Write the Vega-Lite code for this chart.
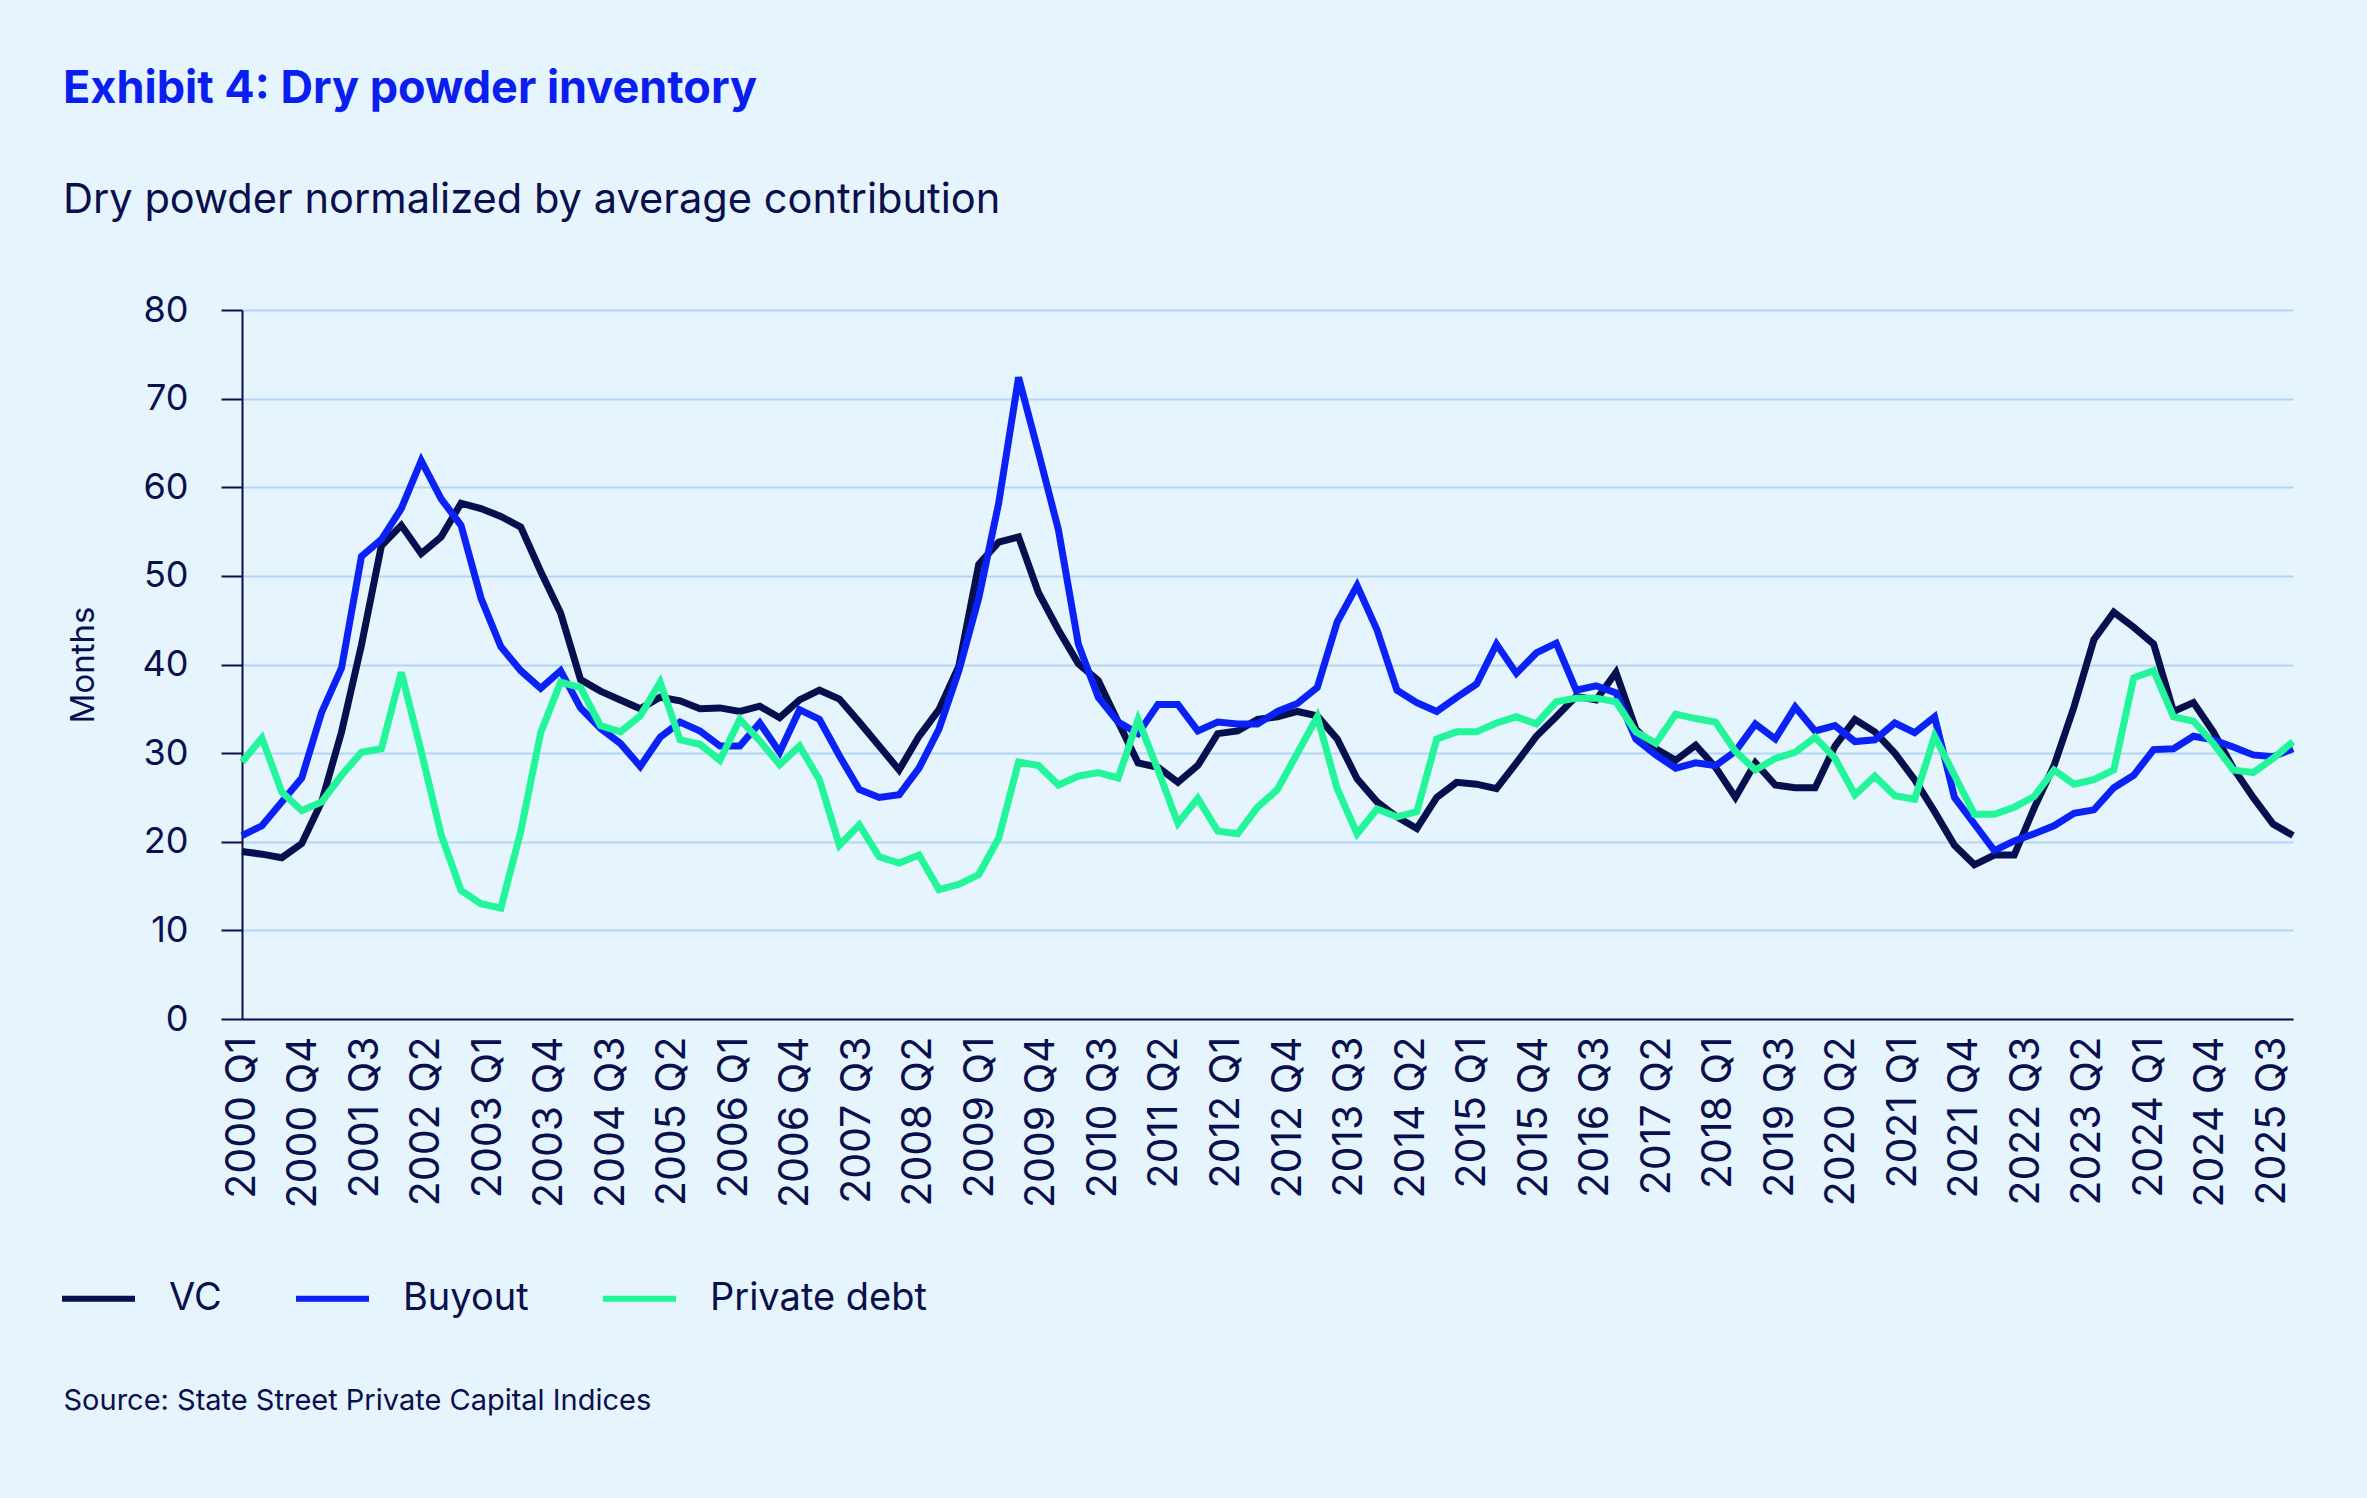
{
  "$schema": "https://vega.github.io/schema/vega-lite/v6.json",
  "width": 2051,
  "height": 709,
  "autosize": "none",
  "padding": {"left": 242, "top": 310, "right": 74, "bottom": 479},
  "background": "#E6F4FD",
  "title": {
    "text": "Exhibit 4: Dry powder inventory",
    "subtitle": "Dry powder normalized by average contribution",
    "anchor": "start",
    "frame": "group",
    "dx": -179,
    "offset": 70,
    "font": "Inter",
    "fontSize": 45,
    "fontWeight": "bold",
    "color": "#0A1EF0",
    "subtitleFont": "Inter",
    "subtitleFontSize": 41.6,
    "subtitleColor": "#0A0F4D",
    "subtitlePadding": 68
  },
  "config": {
    "view": {"stroke": null},
    "font": "Inter"
  },
  "data": {
    "values": [
      {"q":"2000 Q1","VC":18.9,"Buyout":20.7,"Private debt":29.0},
      {"q":"2000 Q2","VC":18.6,"Buyout":21.8,"Private debt":31.7},
      {"q":"2000 Q3","VC":18.2,"Buyout":24.5,"Private debt":25.6},
      {"q":"2000 Q4","VC":19.8,"Buyout":27.2,"Private debt":23.5},
      {"q":"2001 Q1","VC":24.5,"Buyout":34.6,"Private debt":24.5},
      {"q":"2001 Q2","VC":32.4,"Buyout":39.6,"Private debt":27.5},
      {"q":"2001 Q3","VC":42.2,"Buyout":52.2,"Private debt":30.1},
      {"q":"2001 Q4","VC":53.4,"Buyout":54.1,"Private debt":30.5},
      {"q":"2002 Q1","VC":55.7,"Buyout":57.6,"Private debt":39.1},
      {"q":"2002 Q2","VC":52.5,"Buyout":63.0,"Private debt":30.2},
      {"q":"2002 Q3","VC":54.4,"Buyout":58.7,"Private debt":20.8},
      {"q":"2002 Q4","VC":58.2,"Buyout":55.7,"Private debt":14.5},
      {"q":"2003 Q1","VC":57.6,"Buyout":47.5,"Private debt":13.0},
      {"q":"2003 Q2","VC":56.7,"Buyout":42.0,"Private debt":12.5},
      {"q":"2003 Q3","VC":55.5,"Buyout":39.3,"Private debt":21.2},
      {"q":"2003 Q4","VC":50.5,"Buyout":37.3,"Private debt":32.3},
      {"q":"2004 Q1","VC":45.8,"Buyout":39.3,"Private debt":38.0},
      {"q":"2004 Q2","VC":38.3,"Buyout":35.1,"Private debt":37.4},
      {"q":"2004 Q3","VC":37.0,"Buyout":32.8,"Private debt":33.1},
      {"q":"2004 Q4","VC":36.0,"Buyout":31.1,"Private debt":32.4},
      {"q":"2005 Q1","VC":35.0,"Buyout":28.5,"Private debt":34.2},
      {"q":"2005 Q2","VC":36.3,"Buyout":31.8,"Private debt":38.0},
      {"q":"2005 Q3","VC":35.9,"Buyout":33.5,"Private debt":31.5},
      {"q":"2005 Q4","VC":35.0,"Buyout":32.5,"Private debt":31.0},
      {"q":"2006 Q1","VC":35.1,"Buyout":30.8,"Private debt":29.2},
      {"q":"2006 Q2","VC":34.7,"Buyout":30.8,"Private debt":33.8},
      {"q":"2006 Q3","VC":35.3,"Buyout":33.4,"Private debt":31.4},
      {"q":"2006 Q4","VC":34.0,"Buyout":30.1,"Private debt":28.7},
      {"q":"2007 Q1","VC":36.0,"Buyout":34.9,"Private debt":30.8},
      {"q":"2007 Q2","VC":37.1,"Buyout":33.8,"Private debt":27.0},
      {"q":"2007 Q3","VC":36.1,"Buyout":29.7,"Private debt":19.6},
      {"q":"2007 Q4","VC":33.5,"Buyout":25.9,"Private debt":21.9},
      {"q":"2008 Q1","VC":30.8,"Buyout":25.0,"Private debt":18.3},
      {"q":"2008 Q2","VC":28.1,"Buyout":25.3,"Private debt":17.6},
      {"q":"2008 Q3","VC":31.9,"Buyout":28.3,"Private debt":18.5},
      {"q":"2008 Q4","VC":34.9,"Buyout":32.7,"Private debt":14.6},
      {"q":"2009 Q1","VC":39.8,"Buyout":39.3,"Private debt":15.2},
      {"q":"2009 Q2","VC":51.3,"Buyout":47.5,"Private debt":16.3},
      {"q":"2009 Q3","VC":53.8,"Buyout":58.2,"Private debt":20.4},
      {"q":"2009 Q4","VC":54.4,"Buyout":72.4,"Private debt":29.0},
      {"q":"2010 Q1","VC":48.1,"Buyout":63.9,"Private debt":28.6},
      {"q":"2010 Q2","VC":43.9,"Buyout":55.2,"Private debt":26.4},
      {"q":"2010 Q3","VC":40.1,"Buyout":42.3,"Private debt":27.4},
      {"q":"2010 Q4","VC":38.2,"Buyout":36.3,"Private debt":27.8},
      {"q":"2011 Q1","VC":33.5,"Buyout":33.5,"Private debt":27.2},
      {"q":"2011 Q2","VC":28.9,"Buyout":32.2,"Private debt":33.8},
      {"q":"2011 Q3","VC":28.4,"Buyout":35.5,"Private debt":28.1},
      {"q":"2011 Q4","VC":26.7,"Buyout":35.5,"Private debt":22.1},
      {"q":"2012 Q1","VC":28.6,"Buyout":32.5,"Private debt":24.9},
      {"q":"2012 Q2","VC":32.2,"Buyout":33.5,"Private debt":21.2},
      {"q":"2012 Q3","VC":32.5,"Buyout":33.3,"Private debt":20.9},
      {"q":"2012 Q4","VC":33.8,"Buyout":33.3,"Private debt":23.9},
      {"q":"2013 Q1","VC":34.1,"Buyout":34.7,"Private debt":25.9},
      {"q":"2013 Q2","VC":34.7,"Buyout":35.6,"Private debt":30.0},
      {"q":"2013 Q3","VC":34.2,"Buyout":37.4,"Private debt":34.1},
      {"q":"2013 Q4","VC":31.6,"Buyout":44.8,"Private debt":26.0},
      {"q":"2014 Q1","VC":27.1,"Buyout":48.9,"Private debt":20.9},
      {"q":"2014 Q2","VC":24.5,"Buyout":43.9,"Private debt":23.7},
      {"q":"2014 Q3","VC":22.8,"Buyout":37.1,"Private debt":22.8},
      {"q":"2014 Q4","VC":21.5,"Buyout":35.7,"Private debt":23.4},
      {"q":"2015 Q1","VC":25.0,"Buyout":34.7,"Private debt":31.6},
      {"q":"2015 Q2","VC":26.7,"Buyout":36.3,"Private debt":32.4},
      {"q":"2015 Q3","VC":26.5,"Buyout":37.8,"Private debt":32.4},
      {"q":"2015 Q4","VC":26.0,"Buyout":42.3,"Private debt":33.4},
      {"q":"2016 Q1","VC":28.9,"Buyout":39.0,"Private debt":34.1},
      {"q":"2016 Q2","VC":31.9,"Buyout":41.3,"Private debt":33.3},
      {"q":"2016 Q3","VC":34.1,"Buyout":42.4,"Private debt":35.8},
      {"q":"2016 Q4","VC":36.4,"Buyout":37.1,"Private debt":36.2},
      {"q":"2017 Q1","VC":36.0,"Buyout":37.6,"Private debt":36.2},
      {"q":"2017 Q2","VC":39.1,"Buyout":36.8,"Private debt":35.8},
      {"q":"2017 Q3","VC":32.7,"Buyout":31.6,"Private debt":32.4},
      {"q":"2017 Q4","VC":30.5,"Buyout":29.8,"Private debt":31.1},
      {"q":"2018 Q1","VC":29.2,"Buyout":28.3,"Private debt":34.4},
      {"q":"2018 Q2","VC":30.9,"Buyout":28.9,"Private debt":33.9},
      {"q":"2018 Q3","VC":28.4,"Buyout":28.6,"Private debt":33.5},
      {"q":"2018 Q4","VC":25.0,"Buyout":30.2,"Private debt":30.2},
      {"q":"2019 Q1","VC":28.9,"Buyout":33.3,"Private debt":28.1},
      {"q":"2019 Q2","VC":26.4,"Buyout":31.6,"Private debt":29.4},
      {"q":"2019 Q3","VC":26.1,"Buyout":35.2,"Private debt":30.1},
      {"q":"2019 Q4","VC":26.1,"Buyout":32.5,"Private debt":31.8},
      {"q":"2020 Q1","VC":30.8,"Buyout":33.1,"Private debt":29.4},
      {"q":"2020 Q2","VC":33.8,"Buyout":31.3,"Private debt":25.3},
      {"q":"2020 Q3","VC":32.4,"Buyout":31.5,"Private debt":27.4},
      {"q":"2020 Q4","VC":30.0,"Buyout":33.4,"Private debt":25.2},
      {"q":"2021 Q1","VC":27.0,"Buyout":32.3,"Private debt":24.8},
      {"q":"2021 Q2","VC":23.4,"Buyout":34.1,"Private debt":31.9},
      {"q":"2021 Q3","VC":19.6,"Buyout":25.0,"Private debt":27.5},
      {"q":"2021 Q4","VC":17.4,"Buyout":22.0,"Private debt":23.1},
      {"q":"2022 Q1","VC":18.5,"Buyout":19.0,"Private debt":23.1},
      {"q":"2022 Q2","VC":18.5,"Buyout":20.1,"Private debt":23.9},
      {"q":"2022 Q3","VC":23.8,"Buyout":20.9,"Private debt":25.1},
      {"q":"2022 Q4","VC":28.6,"Buyout":21.8,"Private debt":28.1},
      {"q":"2023 Q1","VC":35.2,"Buyout":23.2,"Private debt":26.5},
      {"q":"2023 Q2","VC":42.8,"Buyout":23.6,"Private debt":27.0},
      {"q":"2023 Q3","VC":45.9,"Buyout":26.1,"Private debt":28.1},
      {"q":"2023 Q4","VC":44.2,"Buyout":27.5,"Private debt":38.5},
      {"q":"2024 Q1","VC":42.3,"Buyout":30.4,"Private debt":39.3},
      {"q":"2024 Q2","VC":34.7,"Buyout":30.5,"Private debt":34.1},
      {"q":"2024 Q3","VC":35.7,"Buyout":31.9,"Private debt":33.6},
      {"q":"2024 Q4","VC":32.4,"Buyout":31.5,"Private debt":31.1},
      {"q":"2025 Q1","VC":28.3,"Buyout":30.7,"Private debt":28.1},
      {"q":"2025 Q2","VC":25.0,"Buyout":29.8,"Private debt":27.8},
      {"q":"2025 Q3","VC":22.0,"Buyout":29.6,"Private debt":29.4},
      {"q":"2025 Q4","VC":20.7,"Buyout":30.5,"Private debt":31.3}
    ]
  },
  "transform": [
    {"fold": ["VC", "Buyout", "Private debt"], "as": ["series", "value"]}
  ],
  "layer": [
    {
      "mark": {"type": "line", "strokeWidth": 7, "strokeJoin": "miter"},
      "encoding": {
        "x": {
          "field": "q",
          "type": "ordinal",
          "sort": null,
          "scale": {"type": "point", "padding": 0},
          "axis": null
        },
        "y": {
          "field": "value",
          "type": "quantitative",
          "scale": {"domain": [0, 80], "nice": false},
          "axis": {
            "values": [0, 10, 20, 30, 40, 50, 60, 70, 80],
            "grid": true,
            "gridColor": "#B3D5F5",
            "gridWidth": 2,
            "domainColor": "#0A0F4D",
            "domainWidth": 2,
            "tickColor": "#0A0F4D",
            "tickSize": 21,
            "tickWidth": 2,
            "labelPadding": 33,
            "labelFont": "Inter",
            "labelFontSize": 36,
            "labelColor": "#0A0F4D",
            "title": "Months",
            "titleFont": "Inter",
            "titleFontSize": 33,
            "titleFontWeight": "normal",
            "titleColor": "#0A0F4D",
            "titlePadding": 42
          }
        },
        "color": {
          "field": "series",
          "type": "nominal",
          "scale": {"domain": ["VC", "Buyout", "Private debt"], "range": ["#07104F", "#0A22F5", "#22F59A"]},
          "legend": {
            "title": null,
            "orient": "none",
            "direction": "horizontal",
            "legendX": -183,
            "legendY": 949,
            "symbolType": "stroke",
            "symbolStrokeWidth": 6,
            "symbolSize": 5329,
            "labelOffset": 31,
            "columnPadding": 62,
            "labelLimit": 0,
            "labelFont": "Inter",
            "labelFontSize": 38,
            "labelColor": "#0A0F4D"
          }
        }
      }
    },
    {
      "mark": {"type": "point", "opacity": 0},
      "encoding": {
        "x": {
          "field": "q",
          "type": "ordinal",
          "scale": {
            "type": "point",
            "padding": 0,
            "domain": ["2000 Q1","2000 Q2","2000 Q3","2000 Q4","2001 Q1","2001 Q2","2001 Q3","2001 Q4","2002 Q1","2002 Q2","2002 Q3","2002 Q4","2003 Q1","2003 Q2","2003 Q3","2003 Q4","2004 Q1","2004 Q2","2004 Q3","2004 Q4","2005 Q1","2005 Q2","2005 Q3","2005 Q4","2006 Q1","2006 Q2","2006 Q3","2006 Q4","2007 Q1","2007 Q2","2007 Q3","2007 Q4","2008 Q1","2008 Q2","2008 Q3","2008 Q4","2009 Q1","2009 Q2","2009 Q3","2009 Q4","2010 Q1","2010 Q2","2010 Q3","2010 Q4","2011 Q1","2011 Q2","2011 Q3","2011 Q4","2012 Q1","2012 Q2","2012 Q3","2012 Q4","2013 Q1","2013 Q2","2013 Q3","2013 Q4","2014 Q1","2014 Q2","2014 Q3","2014 Q4","2015 Q1","2015 Q2","2015 Q3","2015 Q4","2016 Q1","2016 Q2","2016 Q3","2016 Q4","2017 Q1","2017 Q2","2017 Q3","2017 Q4","2018 Q1","2018 Q2","2018 Q3","2019 Q3","2019 Q4","2020 Q1","2020 Q2","2020 Q3","2020 Q4","2021 Q1","2021 Q2","2021 Q3","2021 Q4","2022 Q1","2022 Q2","2022 Q3","2022 Q4","2023 Q1","2023 Q2","2023 Q3","2023 Q4","2024 Q1","2024 Q2","2024 Q3","2024 Q4","2025 Q1","2025 Q2","2025 Q3","2025 Q4"]
          },
          "axis": {
            "orient": "bottom",
            "values": ["2000 Q1","2000 Q4","2001 Q3","2002 Q2","2003 Q1","2003 Q4","2004 Q3","2005 Q2","2006 Q1","2006 Q4","2007 Q3","2008 Q2","2009 Q1","2009 Q4","2010 Q3","2011 Q2","2012 Q1","2012 Q4","2013 Q3","2014 Q2","2015 Q1","2015 Q4","2016 Q3","2017 Q2","2018 Q1","2019 Q3","2020 Q2","2021 Q1","2021 Q4","2022 Q3","2023 Q2","2024 Q1","2024 Q4","2025 Q3"],
            "labelAngle": -90,
            "labelAlign": "right",
            "labelBaseline": "middle",
            "labelPadding": 17,
            "labelFont": "Inter",
            "labelFontSize": 41,
            "labelColor": "#0A0F4D",
            "labelOverlap": false,
            "labelBound": false,
            "labelLimit": 0,
            "ticks": false,
            "grid": false,
            "domainColor": "#0A0F4D",
            "domainWidth": 2,
            "title": "Source: State Street Private Capital Indices",
            "titleX": -179,
            "titleY": 381,
            "titleAlign": "left",
            "titleAnchor": "start",
            "titleBaseline": "middle",
            "titleFont": "Inter",
            "titleFontSize": 29,
            "titleFontWeight": "normal",
            "titleColor": "#0A0F4D",
            "titleLimit": 0
          }
        }
      }
    }
  ],
  "resolve": {"scale": {"x": "independent"}, "axis": {"x": "independent"}}
}
